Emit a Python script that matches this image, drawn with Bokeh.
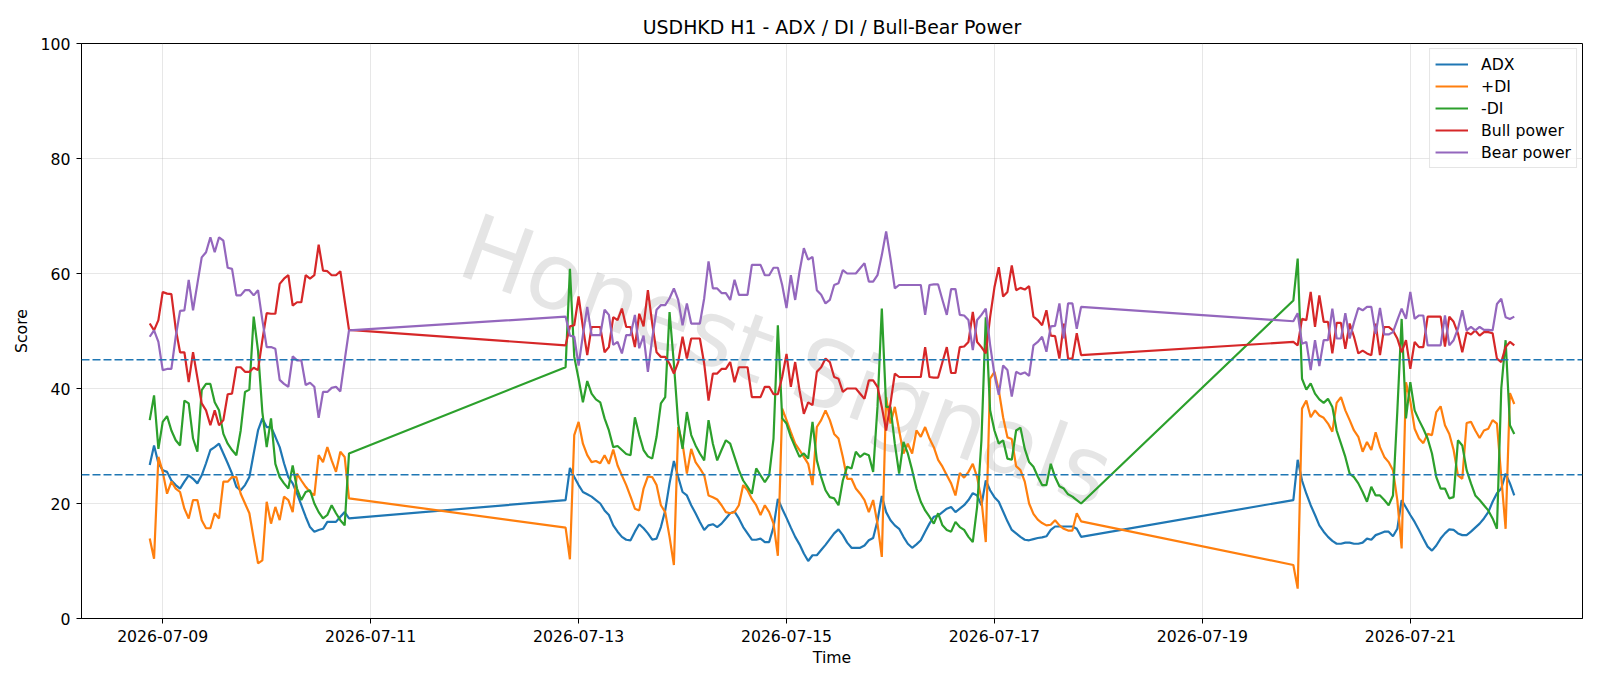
import numpy as np
import pandas as pd
from bokeh.plotting import figure
from bokeh.models import (ColumnDataSource, Range1d, FixedTicker, DatetimeTickFormatter,
                          Span, Legend, LegendItem)
from bokeh.core.properties import value
from bokeh.embed import file_html
from bokeh.resources import INLINE

TITLE = "USDHKD H1 - ADX / DI / Bull-Bear Power"
WATERMARK = "Honest Signals"
SEG_STARTS = ["2026-07-08 21:00", "2026-07-12 21:00", "2026-07-19 21:00"]
X_TICKS = ["2026-07-09", "2026-07-11", "2026-07-13", "2026-07-15",
           "2026-07-17", "2026-07-19", "2026-07-21"]
Y_TICKS = [0, 20, 40, 60, 80, 100]
LEVELS = [25, 45]

# ---- segment 1 (2026-07-08 21:00 .. 2026-07-10 19:00) ----
ADX1 = [26.7, 30.1, 27.0, 25.8, 25.5, 24.0, 23.2, 22.6, 23.8, 24.9,
        24.3, 23.5, 24.9, 27.0, 29.3, 29.8, 30.4, 28.7, 27.0, 25.2,
        22.9, 22.3, 23.2, 24.6, 28.7, 32.7, 34.8, 33.3, 33.3, 31.6,
        29.8, 27.0, 24.6, 23.5, 21.7, 19.7, 17.7, 15.9, 15.1, 15.4,
        15.6, 16.8, 16.8, 16.8, 17.7, 18.5, 17.4]
PDI1 = [13.9, 10.4, 28.1, 25.5, 21.7, 23.8, 22.6, 22.0, 19.1, 17.4,
        20.6, 20.6, 17.1, 15.7, 15.7, 18.3, 17.4, 23.8, 23.8, 24.6,
        24.6, 21.7, 20.0, 18.3, 13.9, 9.6, 10.1, 20.3, 16.5, 19.4,
        17.1, 21.2, 20.6, 18.5, 25.2, 24.0, 22.9, 22.0, 21.4, 28.4,
        27.2, 29.8, 27.5, 25.5, 29.0, 28.1, 20.9]
MDI1 = [34.5, 38.8, 29.5, 34.2, 35.2, 32.7, 31.0, 30.1, 37.9, 37.4,
        31.3, 29.0, 39.7, 40.8, 40.8, 37.6, 36.2, 32.1, 30.4, 29.3,
        28.4, 32.7, 39.4, 39.8, 52.5, 46.6, 35.9, 29.8, 34.8, 26.9,
        24.6, 23.5, 22.6, 26.6, 22.6, 20.6, 22.0, 22.3, 20.0, 18.5,
        17.4, 18.0, 19.7, 18.3, 17.1, 16.2, 28.7]
BULL1 = [51.3, 50.1, 51.9, 56.8, 56.5, 56.4, 50.4, 46.3, 46.3, 41.1,
         46.3, 41.9, 37.4, 36.2, 33.6, 36.2, 33.6, 34.5, 39.0, 39.1,
         43.7, 43.7, 42.9, 42.9, 43.6, 43.2, 48.4, 53.1, 53.0, 53.0,
         58.2, 59.1, 59.7, 54.4, 55.0, 55.0, 59.7, 59.1, 59.7, 65.0,
         60.5, 60.4, 59.7, 59.7, 60.4, 55.3, 50.2]
BEAR1 = [49.0, 50.1, 48.1, 43.2, 43.4, 43.4, 49.0, 53.5, 53.6, 58.9,
         53.6, 58.2, 62.8, 63.7, 66.3, 63.7, 66.3, 65.7, 61.0, 60.8,
         56.2, 56.2, 57.1, 57.1, 56.2, 57.1, 51.9, 47.2, 47.2, 46.9,
         41.5, 40.8, 40.3, 45.6, 44.9, 44.9, 40.6, 41.0, 40.3, 34.9,
         39.4, 39.4, 40.1, 40.3, 39.5, 44.9, 50.1]

# ---- segment 2 (2026-07-12 21:00 .. 2026-07-17 20:00) ----
ADX2 = [20.6, 26.2, 24.6, 23.2, 22.0, 21.6, 21.2, 20.6, 20.0, 18.8,
        18.0, 16.2, 15.1, 14.2, 13.7, 13.6, 15.1, 16.4, 15.7, 14.8,
        13.7, 13.9, 15.9, 18.8, 23.5, 27.4, 24.6, 22.0, 21.4, 19.7,
        18.3, 16.8, 15.4, 16.2, 16.4, 15.9, 16.5, 17.4, 18.3, 18.6,
        17.4, 15.9, 14.8, 13.7, 13.7, 13.9, 13.3, 13.3, 15.9, 20.8,
        19.1, 17.5, 15.8, 14.2, 12.9, 11.3, 10.0, 11.0, 11.0, 11.9,
        12.8, 13.8, 14.8, 15.5, 14.5, 13.2, 12.3, 12.3, 12.3, 12.7,
        13.6, 14.0, 17.0, 21.3, 18.5, 17.1, 16.2, 15.6, 14.2, 13.0,
        12.3, 12.9, 13.6, 15.1, 16.5, 17.7, 17.9, 18.5, 19.1, 19.4,
        18.5, 19.1, 19.7, 20.6, 21.8, 21.4, 19.7, 24.0, 22.3, 21.1,
        20.3, 18.6, 16.9, 15.4, 14.8, 14.2, 13.7, 13.6, 13.8, 14.0,
        14.1, 14.3, 15.4, 16.0, 16.0, 16.0, 16.0, 16.0, 15.6, 14.2]
PDI2 = [15.8, 10.3, 31.9, 34.2, 30.4, 28.4, 27.2, 27.4, 27.0, 28.4,
        26.9, 29.4, 26.6, 24.9, 23.2, 21.2, 19.1, 18.8, 22.6, 24.7,
        24.6, 23.2, 19.7, 18.5, 14.2, 9.3, 33.3, 30.4, 25.2, 29.5,
        27.2, 26.1, 24.9, 21.4, 21.1, 20.7, 19.7, 18.5, 18.3, 18.5,
        19.7, 23.2, 22.3, 20.8, 19.7, 18.0, 19.7, 18.5, 16.5, 10.9,
        36.5, 34.5, 32.4, 30.4, 29.3, 28.1, 26.9, 23.2, 33.3, 34.5,
        36.2, 34.5, 32.1, 31.3, 28.1, 24.3, 24.3, 22.6, 21.7, 20.6,
        18.5, 20.6, 16.5, 10.7, 38.5, 33.9, 36.8, 32.7, 28.7, 30.4,
        28.7, 32.7, 31.6, 33.3, 31.3, 29.8, 27.6, 26.4, 24.9, 23.5,
        21.4, 25.3, 24.5, 25.5, 26.9, 24.6, 20.6, 13.3, 41.7, 42.9,
        39.7, 35.0, 31.5, 31.2, 26.5, 25.8, 23.8, 20.0, 18.2, 17.2,
        16.6, 16.2, 16.3, 17.1, 16.2, 15.6, 15.3, 15.3, 18.3, 16.9]
MDI2 = [43.7, 60.8, 45.5, 41.7, 37.6, 41.3, 39.1, 38.1, 37.6, 34.8,
        32.7, 29.8, 30.0, 29.3, 28.6, 28.4, 35.0, 31.9, 29.3, 28.2,
        27.8, 31.6, 37.4, 38.5, 53.3, 44.3, 33.9, 29.5, 35.9, 31.9,
        30.1, 28.7, 27.5, 34.5, 30.4, 27.5, 29.3, 31.0, 30.4, 28.1,
        25.8, 24.0, 22.9, 21.7, 26.1, 24.9, 23.7, 24.9, 31.3, 51.0,
        34.8, 33.9, 31.6, 29.8, 28.1, 28.7, 27.8, 34.2, 27.5, 24.6,
        22.3, 21.1, 20.9, 19.7, 24.0, 26.4, 26.1, 29.0, 28.1, 28.7,
        28.4, 25.5, 36.8, 53.9, 36.8, 36.8, 30.4, 25.2, 30.7, 28.7,
        25.8, 22.6, 20.3, 18.8, 17.7, 16.5, 18.3, 16.2, 15.4, 15.1,
        16.8, 15.9, 15.4, 14.2, 13.3, 19.4, 31.0, 52.4, 36.2, 32.7,
        30.4, 31.0, 27.8, 27.6, 32.7, 33.2, 29.5, 27.2, 26.4, 24.7,
        23.2, 23.2, 26.9, 24.6, 23.0, 22.6, 21.6, 21.2, 20.6, 20.0]
BULL2 = [47.5, 50.8, 51.0, 56.0, 50.7, 45.8, 50.7, 50.7, 50.7, 46.3,
         47.2, 52.4, 51.9, 53.9, 50.7, 50.7, 47.2, 53.0, 50.8, 57.1,
         51.3, 46.3, 45.5, 45.5, 44.3, 42.6, 44.6, 49.0, 45.2, 48.7,
         48.7, 48.7, 44.3, 37.9, 42.6, 42.6, 43.4, 43.4, 44.6, 41.1,
         43.7, 43.7, 43.7, 38.5, 38.5, 38.5, 40.3, 40.3, 39.0, 39.0,
         42.0, 46.0, 40.3, 44.6, 39.7, 35.6, 37.6, 37.1, 42.9, 43.7,
         45.2, 44.6, 42.0, 41.7, 39.4, 40.0, 40.0, 40.0, 39.1, 38.2,
         41.4, 41.4, 40.3, 36.8, 32.7, 37.4, 42.6, 42.0, 42.0, 42.0,
         42.0, 42.0, 42.0, 47.2, 42.0, 41.9, 41.9, 44.6, 47.2, 42.7,
         42.7, 47.2, 47.3, 48.1, 53.3, 48.1, 47.2, 46.1, 52.4, 57.6,
         61.1, 56.0, 56.8, 61.4, 57.1, 57.5, 57.2, 57.8, 52.5, 51.9,
         51.0, 53.6, 49.2, 49.1, 45.2, 51.3, 45.2, 45.2, 49.6, 45.8]
BEAR2 = [52.5, 49.2, 49.0, 44.0, 49.3, 54.2, 49.3, 49.3, 49.3, 53.7,
         52.8, 47.6, 48.1, 46.1, 49.3, 49.3, 52.8, 47.0, 49.2, 42.9,
         48.7, 53.7, 54.5, 54.5, 55.7, 57.4, 55.4, 51.0, 54.8, 51.3,
         51.3, 51.3, 55.7, 62.1, 57.4, 57.4, 56.6, 56.6, 55.4, 58.9,
         56.3, 56.3, 56.3, 61.5, 61.5, 61.5, 59.7, 59.7, 61.0, 61.0,
         58.0, 54.0, 59.7, 55.4, 60.3, 64.4, 62.4, 62.9, 57.1, 56.3,
         54.8, 55.4, 58.0, 58.3, 60.6, 60.0, 60.0, 60.0, 60.9, 61.8,
         58.6, 58.6, 59.7, 63.2, 67.3, 62.6, 57.4, 58.0, 58.0, 58.0,
         58.0, 58.0, 58.0, 52.8, 58.0, 58.1, 58.1, 55.4, 52.8, 57.3,
         57.3, 52.8, 52.7, 51.9, 46.7, 51.9, 52.8, 53.9, 47.6, 42.4,
         38.9, 44.0, 43.2, 38.6, 42.9, 42.5, 42.8, 42.2, 47.5, 48.1,
         49.0, 46.4, 50.8, 50.9, 54.8, 48.7, 54.8, 54.8, 50.4, 54.2]

# ---- segment 3 (2026-07-19 21:00 .. 2026-07-22 00:00) ----
ADX3 = [20.6, 27.6, 24.0, 21.7, 19.7, 18.0, 16.2, 15.1, 14.2, 13.5,
        13.0, 13.0, 13.2, 13.2, 13.0, 13.0, 13.2, 13.9, 13.7, 14.5,
        14.8, 15.1, 15.1, 14.3, 15.6, 20.6, 19.3, 18.0, 16.8, 15.4,
        13.9, 12.5, 11.8, 12.7, 13.9, 14.8, 15.5, 15.4, 14.8, 14.5,
        14.5, 15.1, 15.8, 16.5, 17.4, 18.5, 20.3, 21.8, 22.6, 25.2,
        23.5, 21.4]
PDI3 = [9.3, 5.2, 36.5, 37.9, 35.0, 36.2, 35.3, 34.9, 33.9, 32.5,
        37.5, 38.5, 36.2, 34.5, 32.7, 31.6, 29.0, 30.7, 29.3, 32.4,
        29.8, 28.1, 27.2, 25.8, 20.6, 12.2, 41.1, 37.8, 33.0, 31.3,
        30.5, 32.1, 31.9, 35.9, 36.9, 33.6, 32.1, 29.3, 24.9, 24.3,
        34.0, 34.2, 32.7, 31.4, 32.7, 33.0, 34.5, 33.9, 24.6, 15.6,
        39.2, 37.3]
MDI3 = [55.3, 62.6, 41.7, 39.8, 40.9, 39.1, 38.1, 37.5, 38.2, 36.8,
        32.7, 30.4, 28.1, 25.2, 24.6, 23.5, 22.0, 20.3, 22.9, 21.4,
        21.4, 20.6, 19.7, 21.4, 36.0, 52.1, 34.8, 41.1, 36.2, 34.5,
        33.0, 31.3, 28.7, 24.6, 22.6, 22.6, 20.9, 21.1, 31.0, 30.1,
        25.8, 23.5, 21.4, 20.6, 19.7, 18.8, 17.4, 15.6, 40.0, 48.4,
        33.6, 32.1]
BULL3 = [48.1, 47.5, 52.1, 51.9, 56.8, 50.7, 56.2, 51.6, 51.6, 46.1,
         51.4, 51.4, 46.9, 51.3, 49.0, 46.1, 46.6, 46.1, 45.8, 51.3,
         45.8, 50.7, 50.7, 50.1, 48.7, 46.3, 48.4, 43.4, 48.1, 47.2,
         47.2, 52.5, 52.5, 52.5, 52.5, 47.3, 52.5, 51.6, 49.6, 46.3,
         49.8, 49.4, 50.1, 49.2, 49.8, 49.8, 49.6, 45.2, 44.6, 47.2,
         48.1, 47.5]
BEAR3 = [51.7, 53.1, 47.8, 48.1, 43.2, 48.4, 43.9, 48.4, 48.4, 53.9,
         48.7, 48.7, 53.1, 48.7, 51.5, 54.0, 53.6, 54.2, 54.2, 49.5,
         54.0, 49.4, 49.4, 49.8, 51.9, 53.9, 52.1, 56.8, 52.1, 52.7,
         52.7, 47.5, 47.5, 47.5, 47.5, 52.7, 47.5, 48.4, 50.4, 53.6,
         50.1, 50.7, 50.1, 50.7, 50.2, 50.2, 50.1, 54.7, 55.6, 52.4,
         52.1, 52.5]

SERIES = [
    ("ADX", ADX1 + ADX2 + ADX3, "#1f77b4"),
    ("+DI", PDI1 + PDI2 + PDI3, "#ff7f0e"),
    ("-DI", MDI1 + MDI2 + MDI3, "#2ca02c"),
    ("Bull power", BULL1 + BULL2 + BULL3, "#d62728"),
    ("Bear power", BEAR1 + BEAR2 + BEAR3, "#9467bd"),
]

seg_lens = [len(ADX1), len(ADX2), len(ADX3)]
times = pd.DatetimeIndex(np.concatenate(
    [pd.date_range(s, periods=n, freq="h").values for s, n in zip(SEG_STARTS, seg_lens)]))


def ms(ts):
    return pd.Timestamp(ts).value / 1e6


t0, t1 = ms(times[0]), ms(times[-1])
pad = 0.05 * (t1 - t0)

FONT = "DejaVu Sans"
FS = "15.7px"

p = figure(width=1600, height=686, x_axis_type="datetime", output_backend="svg",
           toolbar_location=None, title=TITLE,
           x_range=Range1d(t0 - pad, t1 + pad), y_range=Range1d(0, 100))
p.min_border_left = 81
p.min_border_right = 18
p.min_border_top = 43
p.min_border_bottom = 68

p.title.text_font = FONT
p.title.text_font_size = "18.9px"
p.title.text_font_style = "normal"
p.title.text_color = "black"
p.title.align = "center"
p.title.standoff = 12

p.outline_line_color = "black"
p.outline_line_width = 1
p.outline_line_alpha = 1

# watermark (below the series)
p.text(x=[ms("2026-07-15 00:00")], y=[44.8], text=[WATERMARK], angle=-20, angle_units="deg",
       text_font=value(FONT), text_font_size="92px", text_color="#b0b0b0", text_alpha=0.33,
       text_align="center", text_baseline="middle")

for lv in LEVELS:
    p.add_layout(Span(location=lv, dimension="width", line_color="#1f77b4",
                      line_dash="8 3", line_width=1.7))

items = []
for name, vals, color in SERIES:
    src = ColumnDataSource(dict(t=times[:len(vals)], v=vals))
    r = p.line("t", "v", source=src, line_color=color, line_width=2.2)
    items.append(LegendItem(label=name, renderers=[r]))

p.xaxis.ticker = FixedTicker(ticks=[ms(t) for t in X_TICKS])
fmt = "%Y-%m-%d"
p.xaxis.formatter = DatetimeTickFormatter(
    microseconds=fmt, milliseconds=fmt, seconds=fmt, minsec=fmt, minutes=fmt,
    hourmin=fmt, hours=fmt, days=fmt, months=fmt, years=fmt,
    strip_leading_zeros=False)
p.yaxis.ticker = FixedTicker(ticks=Y_TICKS)

for ax in (p.xaxis, p.yaxis):
    ax.axis_line_color = "black"
    ax.major_tick_line_color = "black"
    ax.major_tick_out = 5
    ax.major_tick_in = 0
    ax.minor_tick_line_color = None
    ax.major_label_text_font = FONT
    ax.major_label_text_font_size = FS
    ax.major_label_text_color = "black"
    ax.major_label_standoff = 6
    ax.axis_label_text_font = FONT
    ax.axis_label_text_font_size = FS
    ax.axis_label_text_font_style = "normal"
    ax.axis_label_text_color = "black"

p.xaxis.axis_label = "Time"
p.yaxis.axis_label = "Score"
p.xaxis.axis_label_standoff = 3
p.yaxis.axis_label_standoff = 7

p.grid.grid_line_color = "#b0b0b0"
p.grid.grid_line_alpha = 0.3
p.grid.grid_line_width = 1

legend = Legend(items=items, location="top_right")
legend.label_text_font = FONT
legend.label_text_font_size = FS
legend.label_text_color = "black"
legend.glyph_width = 33
legend.glyph_height = 20
legend.label_height = 20
legend.spacing = 2
legend.padding = 5
legend.margin = 5
legend.label_standoff = 13
legend.border_line_color = "#cccccc"
legend.border_line_width = 1
legend.background_fill_alpha = 0.8
p.add_layout(legend)

open("out.html", "w").write(file_html(p, INLINE))
